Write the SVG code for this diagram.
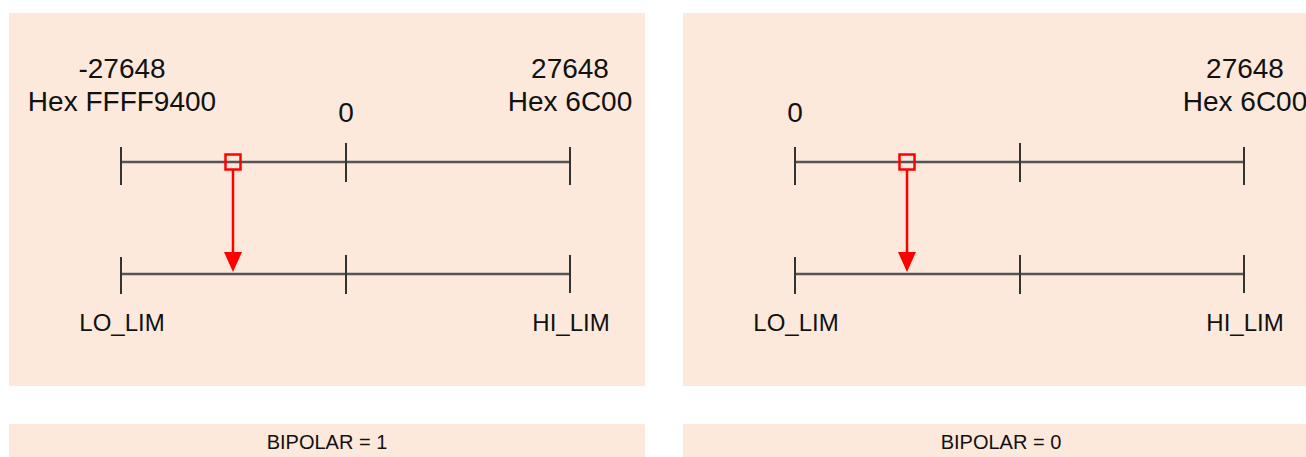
<svg xmlns="http://www.w3.org/2000/svg" width="1306" height="457" viewBox="0 0 1306 457">
<style>
.panel{fill:#FCE9DC}
.axis{stroke:#555;stroke-width:2.5;fill:none}
.tick{stroke:#333;stroke-width:2;fill:none}
.val{font-family:"Liberation Sans",Arial,sans-serif;font-size:28px;fill:#111;text-anchor:middle}
.lim{font-family:"Liberation Sans",Arial,sans-serif;font-size:24px;fill:#111;text-anchor:middle}
.cap{font-family:"Liberation Sans",Arial,sans-serif;font-size:20px;fill:#111;text-anchor:middle}
.mark{fill:none;stroke:#FF0000;stroke-width:2.5}
.conn{stroke:#FF0000;stroke-width:2.5;fill:none}
</style>
<defs>
<marker id="ah" markerWidth="20" markerHeight="18" refX="1" refY="9" orient="auto" markerUnits="userSpaceOnUse" viewBox="0 0 20 18">
<path d="M0,0 L20,9 L0,18 Z" fill="#FF0000"/>
</marker>
</defs>
<rect width="1306" height="457" fill="#FFFFFF"/>

<g id="panel-bipolar1">
<rect class="panel" x="9" y="13" width="636" height="373"/>
<text class="val" x="122" y="78">-27648</text>
<text class="val" x="122" y="111">Hex FFFF9400</text>
<text class="val" x="346" y="122">0</text>
<text class="val" x="570" y="78">27648</text>
<text class="val" x="570" y="111">Hex 6C00</text>
<line class="axis" x1="121" y1="162" x2="570" y2="162"/>
<line class="tick" x1="121" y1="147" x2="121" y2="185"/>
<line class="tick" x1="346" y1="143" x2="346" y2="182"/>
<line class="tick" x1="570" y1="147" x2="570" y2="185"/>
<rect class="mark" x="225.5" y="154.5" width="15" height="15"/>
<line class="axis" x1="121" y1="274" x2="570" y2="274"/>
<line class="tick" x1="121" y1="257" x2="121" y2="294"/>
<line class="tick" x1="346" y1="255" x2="346" y2="294"/>
<line class="tick" x1="570" y1="255" x2="570" y2="293"/>
<text class="lim" x="122" y="331">LO_LIM</text>
<text class="lim" x="571" y="331">HI_LIM</text>
</g>

<g id="panel-bipolar0">
<rect class="panel" x="683" y="13" width="636" height="373"/>
<text class="val" x="795" y="122">0</text>
<text class="val" x="1245" y="78">27648</text>
<text class="val" x="1245" y="111">Hex 6C00</text>
<line class="axis" x1="795" y1="162" x2="1244" y2="162"/>
<line class="tick" x1="795" y1="147" x2="795" y2="185"/>
<line class="tick" x1="1020" y1="143" x2="1020" y2="182"/>
<line class="tick" x1="1244" y1="147" x2="1244" y2="185"/>
<rect class="mark" x="899.5" y="154.5" width="15" height="15"/>
<line class="axis" x1="795" y1="274" x2="1244" y2="274"/>
<line class="tick" x1="795" y1="257" x2="795" y2="294"/>
<line class="tick" x1="1020" y1="255" x2="1020" y2="294"/>
<line class="tick" x1="1244" y1="255" x2="1244" y2="293"/>
<text class="lim" x="796" y="331">LO_LIM</text>
<text class="lim" x="1245" y="331">HI_LIM</text>
</g>

<g id="label-bipolar1">
<rect class="panel" x="9" y="424" width="636" height="33"/>
<text class="cap" x="327" y="449">BIPOLAR = 1</text>
</g>
<g id="label-bipolar0">
<rect class="panel" x="683" y="424" width="636" height="33"/>
<text class="cap" x="1001" y="449">BIPOLAR = 0</text>
</g>

<g id="connectors">
<line class="conn" x1="233" y1="170" x2="233" y2="253" marker-end="url(#ah)"/>
<line class="conn" x1="907" y1="170" x2="907" y2="253" marker-end="url(#ah)"/>
</g>
</svg>
